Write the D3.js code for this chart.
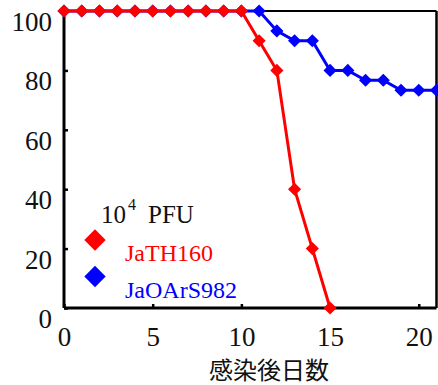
<!DOCTYPE html>
<html><head><meta charset="utf-8">
<script src="https://cdn.jsdelivr.net/npm/d3@7"></script>
<style>body{margin:0;background:#fff}svg{display:block}</style>
</head><body>
<svg id="c" width="438" height="385"></svg>
<script>
const days = [0,1,2,3,4,5,6,7,8,9,10,11,12,13,14,15,16,17,18,19,20,21];
const jaTH160 = [100,100,100,100,100,100,100,100,100,100,100,90,80,40,20,0];
const jaOArS982 = [100,100,100,100,100,100,100,100,100,100,100,100,93.3,90,90,80,80,76.7,76.7,73.3,73.3,73.3];
const xTicks = [0,5,10,15,20];
const yTicks = [0,20,40,60,80,100];
const legendTitle = "10";
const legendSup = "4";
const legendUnit = "PFU";
const seriesNames = ["JaTH160","JaOArS982"];
const seriesColors = ["#ff0000","#0000ff"];
const xLabel = "感染後日数";

const svg = d3.select("#c");
const x = d3.scaleLinear().domain([0,21]).range([64,436.5]);
const y = d3.scaleLinear().domain([0,100]).range([308,11]);
const serif = '"Liberation Serif", serif';

// frame
svg.append("line").attr("x1",x(0)).attr("x2",x(21)).attr("y1",y(100)).attr("y2",y(100)).attr("stroke","#000").attr("stroke-width",2);
svg.append("line").attr("x1",x(21)).attr("x2",x(21)).attr("y1",y(100)).attr("y2",y(0)).attr("stroke","#000").attr("stroke-width",2.5);

const xAxis = svg.append("g").attr("transform",`translate(0,${y(0)})`)
  .call(d3.axisBottom(x).tickValues(xTicks).tickSize(-4).tickPadding(22).tickFormat(d3.format("d")));
const yAxis = svg.append("g").attr("transform",`translate(${x(0)},0)`)
  .call(d3.axisLeft(y).tickValues(yTicks).tickSize(-4).tickPadding(12).tickFormat(d3.format("d")));
[xAxis,yAxis].forEach(g=>{
  g.attr("font-family",null).attr("font-size",null);
  g.select(".domain").attr("stroke","#000").attr("stroke-width",3);
  g.selectAll(".tick line").attr("stroke","#000").attr("stroke-width",2.5);
  g.selectAll("text").style("font-family",serif).style("font-size","27px").attr("fill","#111");
});
xAxis.select(".domain").attr("d",`M${x(0)},0H${x(21)}`);
yAxis.select(".domain").attr("d",`M0,${y(0)}V${y(100)}`);
xAxis.selectAll("text").attr("dy","0.6em");
yAxis.selectAll("text").attr("dy","0.72em");

svg.append("text").attr("x",269).attr("y",379).attr("text-anchor","middle")
  .style("font-family",'"Noto Sans CJK JP", sans-serif').style("font-size","24px").attr("fill","#111").text(xLabel);

const diamond = d3.symbol().type(d3.symbolDiamond2);
const line = d3.line().x((d,i)=>x(days[i])).y(d=>y(d));
[jaOArS982, jaTH160].forEach((vals,k)=>{
  const col = k===0 ? seriesColors[1] : seriesColors[0];
  svg.append("path").attr("d",line(vals)).attr("fill","none").attr("stroke",col).attr("stroke-width",3);
  svg.selectAll(null).data(vals).enter().append("path")
    .attr("transform",(d,i)=>`translate(${x(days[i])},${y(d)})`)
    .attr("d",diamond.size(110)()).attr("fill",col);
});

// legend
const lg = svg.append("g");
const t = lg.append("text").attr("x",101).attr("y",223).style("font-family",serif).style("font-size","25px").attr("fill","#111");
t.append("tspan").text(legendTitle);
t.append("tspan").style("font-size","16px").attr("dy",-13).attr("dx",2).text(legendSup);
t.append("tspan").attr("x",148).attr("dy",13).text(legendUnit);
seriesNames.forEach((n,i)=>{
  const cy = 240 + i*36.5;
  lg.append("path").attr("transform",`translate(95,${cy})`).attr("d",diamond.size(290)()).attr("fill",seriesColors[i]);
  lg.append("text").attr("x",125).attr("y",cy+21).style("font-family",serif).style("font-size","24px").attr("fill",seriesColors[i]).text(n);
});
</script>
</body></html>
